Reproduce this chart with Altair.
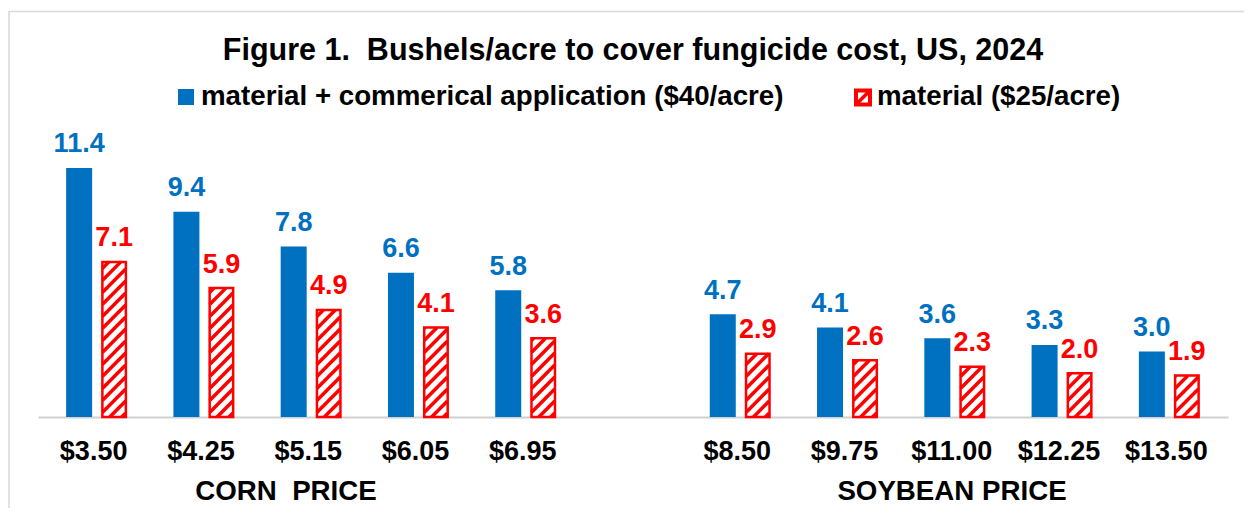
import altair as alt
import pandas as pd

# ---------------- data ----------------
title_text = "Figure 1.\u00a0\u00a0Bushels/acre to cover fungicide cost, US, 2024"
series_names = ["material + commerical application ($40/acre)", "material ($25/acre)"]
group_names = ["CORN\u00a0\u00a0PRICE", "SOYBEAN PRICE"]

corn_prices = ["$3.50", "$4.25", "$5.15", "$6.05", "$6.95"]
corn_total = [11.4, 9.4, 7.8, 6.6, 5.8]
corn_material = [7.1, 5.9, 4.9, 4.1, 3.6]

soy_prices = ["$8.50", "$9.75", "$11.00", "$12.25", "$13.50"]
soy_total = [4.7, 4.1, 3.6, 3.3, 3.0]
soy_material = [2.9, 2.6, 2.3, 2.0, 1.9]

# ---------------- layout / style ----------------
BLUE = "#0070C0"
RED = "#FF0000"
FONT = "Liberation Sans"
W_PLOT, H_PLOT = 1190, 284
X_DOMAIN = [-0.5, 10.5]
Y_DOMAIN = [0, 13]
PXX = W_PLOT / (X_DOMAIN[1] - X_DOMAIN[0])
PXY = H_PLOT / (Y_DOMAIN[1] - Y_DOMAIN[0])
BAR_W = 26
RED_W = 23.5
OFF = 17.5
HATCH_STEP = 12
GAP_SLOT = len(corn_prices)

rows = []
for i, p in enumerate(corn_prices):
    rows.append(dict(slot=i, label=p, total=corn_total[i], material=corn_material[i]))
for i, p in enumerate(soy_prices):
    rows.append(dict(slot=i + GAP_SLOT + 1, label=p, total=soy_total[i], material=soy_material[i]))
df = pd.DataFrame(rows)

# hatch segments inside each red bar, derived from the bar values
hatch = []
for r in rows:
    h_px = r["material"] * PXY
    left_px = OFF - RED_W / 2
    k = 0
    while True:
        c = -RED_W + 4 + k * HATCH_STEP
        if c >= h_px:
            break
        a = max(0.0, -c)
        b = min(RED_W, h_px - c)
        if b - a > 0.5:
            hatch.append(dict(
                hx1=r["slot"] + (left_px + a) / PXX, hy1=(a + c) / PXY,
                hx2=r["slot"] + (left_px + b) / PXX, hy2=(b + c) / PXY))
        k += 1
hdf = pd.DataFrame(hatch)

slot_labels = [""] * (len(corn_prices) + len(soy_prices) + 1)
for r in rows:
    slot_labels[r["slot"]] = r["label"]
label_expr = "[" + ",".join("'" + s + "'" for s in slot_labels) + "][datum.value]"

x_axis = alt.Axis(values=[r["slot"] for r in rows], labelExpr=label_expr, title=None,
                  domainColor="#d0d0d0", domainWidth=2, ticks=False, tickSize=0, grid=False,
                  labelFont=FONT, labelFontWeight="bold", labelFontSize=27, labelColor="black",
                  labelBaseline="alphabetic", labelPadding=42.5, labelOffset=-3.5,
                  labelFlush=False, labelOverlap=False, labelBound=False)
x_scale = alt.Scale(domain=X_DOMAIN, nice=False, zero=False)
y_scale = alt.Scale(domain=Y_DOMAIN, nice=False)

base = alt.Chart(df)

blue_bars = base.mark_bar(width=BAR_W, xOffset=-OFF, color=BLUE).encode(
    x=alt.X("slot:Q", scale=x_scale, axis=x_axis),
    y=alt.Y("total:Q", scale=y_scale, axis=None),
)
red_fill = base.mark_bar(width=RED_W, xOffset=OFF, fill="white").encode(
    x=alt.X("slot:Q", scale=x_scale, axis=x_axis),
    y=alt.Y("material:Q", scale=y_scale, axis=None),
)
hatch_lines = alt.Chart(hdf).mark_rule(color=RED, strokeWidth=3.5, strokeCap="butt").encode(
    x=alt.X("hx1:Q", scale=x_scale, axis=x_axis),
    x2="hx2:Q",
    y=alt.Y("hy1:Q", scale=y_scale, axis=None),
    y2="hy2:Q",
)
red_border = base.mark_bar(width=RED_W, xOffset=OFF, fillOpacity=0, stroke=RED, strokeWidth=2.5).encode(
    x=alt.X("slot:Q", scale=x_scale, axis=x_axis),
    y=alt.Y("material:Q", scale=y_scale, axis=None),
)
blue_text = base.mark_text(dx=-OFF, dy=-15.6, baseline="alphabetic", align="center",
                           font=FONT, fontWeight="bold", fontSize=27, color=BLUE).encode(
    x=alt.X("slot:Q", scale=x_scale, axis=x_axis),
    y=alt.Y("total:Q", scale=y_scale, axis=None),
    text=alt.Text("total:Q", format=".1f"),
)
red_text = base.mark_text(dx=OFF, dy=-15.6, baseline="alphabetic", align="center",
                          font=FONT, fontWeight="bold", fontSize=27, color=RED).encode(
    x=alt.X("slot:Q", scale=x_scale, axis=x_axis),
    y=alt.Y("material:Q", scale=y_scale, axis=None),
    text=alt.Text("material:Q", format=".1f"),
)

one = pd.DataFrame({"a": [0]})

border = alt.Chart(one).mark_rect(fillOpacity=0, stroke="#d9d9d9", strokeWidth=1.5).encode(
    x=alt.value(-29), x2=alt.value(1240), y=alt.value(-121.5), y2=alt.value(430))

title = alt.Chart(pd.DataFrame({"t": [title_text]})).mark_text(
    font=FONT, fontWeight="bold", fontSize=30.5, color="black", align="center", baseline="alphabetic"
).encode(x=alt.value(595), y=alt.value(-73), text="t:N")

leg_blue = alt.Chart(one).mark_rect(color=BLUE).encode(
    x=alt.value(140), x2=alt.value(156), y=alt.value(-44), y2=alt.value(-28))
leg_red_box = alt.Chart(one).mark_rect(fill="white", stroke=RED, strokeWidth=4).encode(
    x=alt.value(818), x2=alt.value(832), y=alt.value(-42.5), y2=alt.value(-28.5))
leg_red_diag = alt.Chart(one).mark_rule(color=RED, strokeWidth=3.5).encode(
    x=alt.value(819), x2=alt.value(831), y=alt.value(-29.5), y2=alt.value(-41.5))
leg_text = alt.Chart(pd.DataFrame({"t": series_names, "px": [163, 839]})).mark_text(
    font=FONT, fontWeight="bold", fontSize=27.7, color="black", align="left", baseline="alphabetic"
).encode(x=alt.X("px:Q", scale=None), y=alt.value(-28), text="t:N")

group_text = alt.Chart(pd.DataFrame({"t": group_names, "px": [248, 914]})).mark_text(
    font=FONT, fontWeight="bold", fontSize=27.7, color="black", align="center", baseline="alphabetic"
).encode(x=alt.X("px:Q", scale=None), y=alt.value(367), text="t:N")

chart = alt.layer(
    border, blue_bars, red_fill, hatch_lines, red_border, blue_text, red_text,
    title, leg_blue, leg_red_box, leg_red_diag, leg_text, group_text
).properties(
    width=W_PLOT, height=H_PLOT, autosize="none",
    padding={"left": 30, "top": 125, "right": 16, "bottom": 91},
).configure_view(stroke=None)

chart.save("out.html", embed_options={"renderer": "svg", "actions": False})
